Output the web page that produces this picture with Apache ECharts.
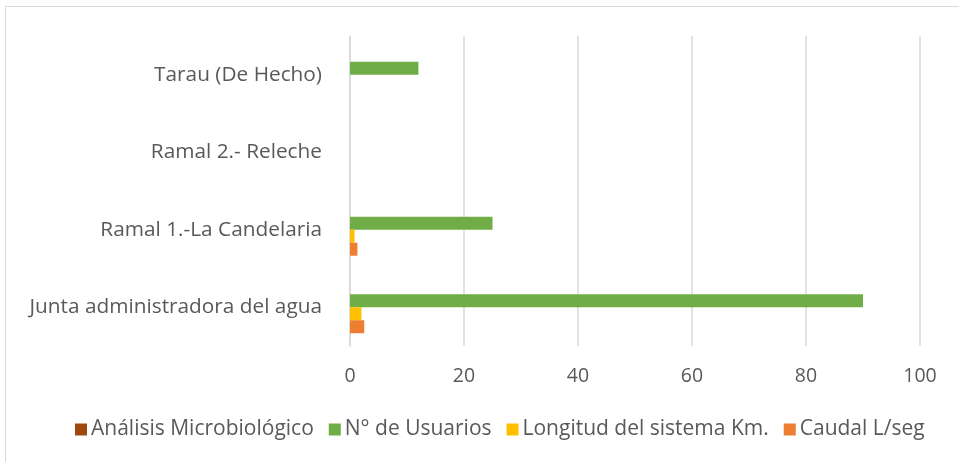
<!DOCTYPE html>
<html>
<head>
<meta charset="utf-8">
<script src="https://cdn.jsdelivr.net/npm/echarts@6/dist/echarts.min.js"></script>
<style>
  html, body { margin: 0; padding: 0; background: #fff; }
  #main { width: 959px; height: 462px; }
</style>
</head>
<body>
<div id="main"></div>
<script>
// categorias (de abajo hacia arriba)
var categorias = ['Junta administradora del agua', 'Ramal 1.-La Candelaria', 'Ramal 2.- Releche', 'Tarau (De Hecho)'];
var analisis = [0, 0, 0, 0];
var usuarios = [90, 25, 0, 12];
var longitud = [2, 0.8, 0, 0];
var caudal = [2.5, 1.3, 0, 0];
var ticks = [0, 20, 40, 60, 80, 100];

var fuente = 'Open Sans';
var gris = '#595959';

var chart = echarts.init(document.getElementById('main'));

function serie(nombre, datos, color) {
  return {
    name: nombre,
    type: 'bar',
    data: datos,
    itemStyle: { color: color },
    barGap: '0%',
    barCategoryGap: '33%',
    animation: false
  };
}

var option = {
  animation: false,
  textStyle: { fontFamily: fuente },
  graphic: [{
    type: 'rect',
    shape: { x: 5.5, y: 6.5, width: 1000, height: 500 },
    style: { fill: null, stroke: '#d9d9d9', lineWidth: 1 },
    silent: true
  }],
  grid: { left: 350, right: 39, top: 36, bottom: 116 },
  legend: {
    top: 414,
    left: 70,
    icon: 'rect',
    itemWidth: 12,
    itemHeight: 12,
    itemGap: 15,
    textStyle: { fontFamily: fuente, fontSize: 21, color: gris, padding: [0, 0, 0, -1] }
  },
  xAxis: {
    type: 'value',
    min: ticks[0],
    max: ticks[ticks.length - 1],
    interval: 20,
    axisLine: { show: false },
    axisTick: { show: false },
    splitLine: { lineStyle: { color: '#d9d9d9', width: 1.5 } },
    axisLabel: { fontFamily: fuente, fontSize: 19.5, color: gris, margin: 20 }
  },
  yAxis: {
    type: 'category',
    data: categorias,
    axisLine: { lineStyle: { color: '#d9d9d9', width: 1.5 } },
    axisTick: { show: false },
    axisLabel: { fontFamily: fuente, fontSize: 20.8, color: gris, margin: 28 }
  },
  series: [
    serie('Análisis Microbiológico', analisis, '#9e480e'),
    serie('N° de Usuarios', usuarios, '#70ad47'),
    serie('Longitud del sistema Km.', longitud, '#ffc000'),
    serie('Caudal L/seg', caudal, '#ed7d31')
  ]
};

chart.setOption(option);
</script>
</body>
</html>
